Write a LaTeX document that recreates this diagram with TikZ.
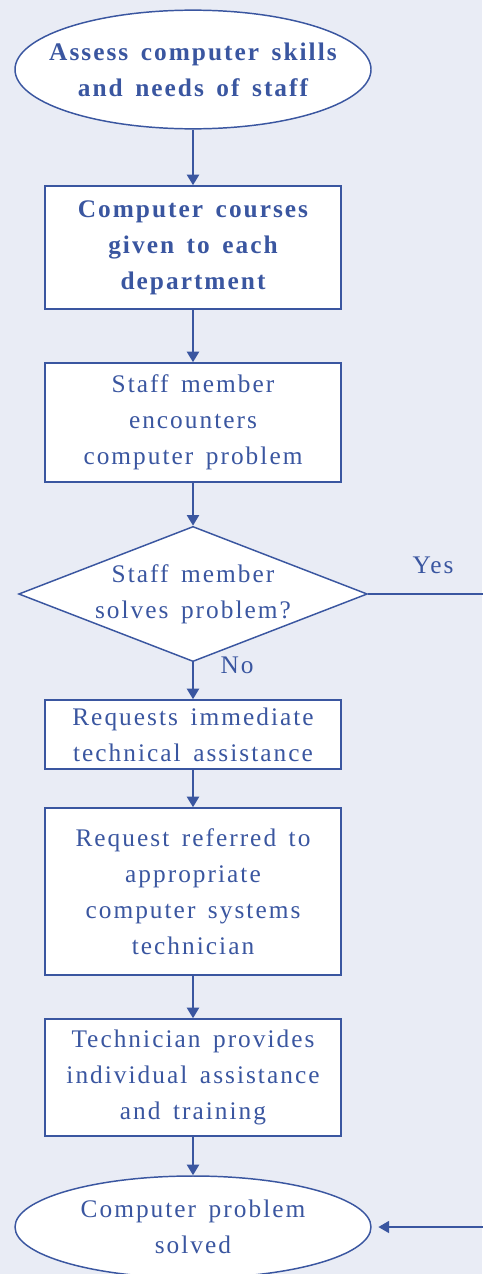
\documentclass[tikz,border=0pt]{standalone}
\usepackage{fontspec}
\setmainfont{Liberation Serif}[LetterSpace=8,WordSpace=1.5]
\usetikzlibrary{shapes.geometric,arrows.meta}

\definecolor{flowblue}{RGB}{58,86,160}
\definecolor{paper}{RGB}{233,236,245}

\tikzset{every picture/.style={line width=0.75pt}}
\tikzset{
  flowtext/.style={text=flowblue, align=center, font=\fontsize{19}{27}\selectfont},
  stepbox/.style={flowtext, draw=flowblue, fill=white, line width=1.1pt, minimum width=222pt, inner sep=0pt},
  term/.style={ellipse, draw=flowblue, fill=white, line width=1.1pt, minimum width=267pt, inner sep=0pt},
  decide/.style={flowtext, diamond, draw=flowblue, fill=white, line width=1.1pt, aspect=2.58, inner sep=0pt},
  flow/.style={draw=flowblue, line width=1.8pt, -{Triangle[length=8pt,width=9pt]}}
}

\begin{document}
\begin{tikzpicture}[x=0.75pt,y=0.75pt,yscale=-1]
\useasboundingbox[fill=paper] (0,0) rectangle (482,1274);

% start and end ellipses
\node[term, minimum height=89pt] (start) at (193,69.5) {};
\node[flowtext, font=\fontsize{19}{27}\selectfont\bfseries] (starttext) at (start) {Assess computer skills\\and needs of staff};
\node[term, minimum height=76.5pt] (done) at (193,1227) {};
\node[flowtext] (donetext) at (done) {Computer problem\\solved};

% steps
\node[stepbox, minimum height=92.25pt, font=\fontsize{19}{27}\selectfont\bfseries] (courses) at (193,247.5) {Computer courses\\given to each\\department};
\node[stepbox, minimum height=89.25pt] (encounter) at (193,422.5) {Staff member\\encounters\\computer problem};
\node[decide] (solves) at (193,594) {Staff member\\solves problem?};
\node[stepbox, minimum height=51.75pt] (request) at (193,734.5) {Requests immediate\\technical assistance};
\node[stepbox, minimum height=125.25pt] (referred) at (193,891.5) {Request referred to\\appropriate\\computer systems\\technician};
\node[stepbox, minimum height=87.75pt] (training) at (193,1077.5) {Technician provides\\individual assistance\\and training};

% labels
\node[flowtext] (yes) at (433,565) {Yes};
\node[flowtext] (no) at (237,665) {No};

% connectors
\draw[flow] (start) -- (courses);
\draw[flow] (courses) -- (encounter);
\draw[flow] (encounter) -- (solves);
\draw[flow] (solves) -- (request);
\draw[flow] (request) -- (referred);
\draw[flow] (referred) -- (training);
\draw[flow] (training) -- (done);
\coordinate (offpage) at (500,597);
\draw[flow, line width=1.1pt, shorten >=5pt] (solves.east) -- (solves.east -| offpage) |- (done.east);
\end{tikzpicture}
\end{document}
